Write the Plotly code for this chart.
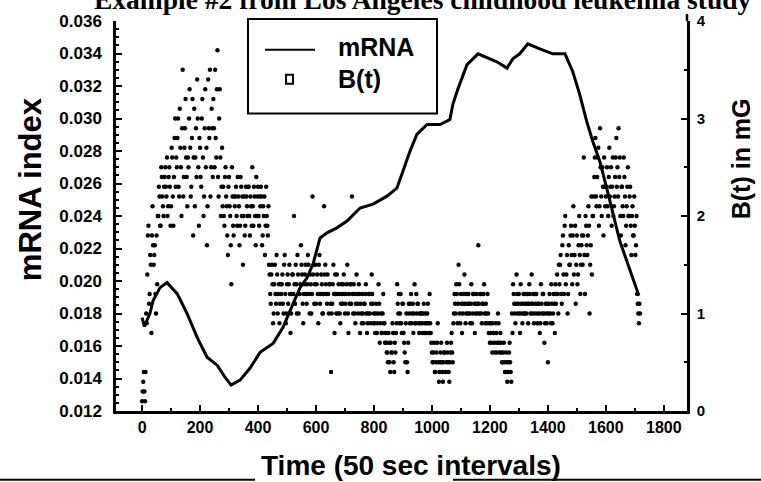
import plotly.graph_objects as go

# mRNA index curve (left axis)
mrna_time = [0, 8, 28, 38, 62, 86, 121, 155, 190, 224, 259, 286, 307, 338, 372, 407,
             452, 486, 521, 545, 569, 590, 614, 638, 672, 707, 752, 797, 845, 879, 900,
             924, 948, 983, 1028, 1062, 1072, 1090, 1121, 1159, 1200, 1224, 1259, 1279,
             1303, 1331, 1372, 1417, 1459, 1486, 1510, 1534, 1555, 1579, 1603, 1624,
             1648, 1672, 1693, 1714]
mrna_index = [0.01775, 0.01720, 0.01806, 0.01880, 0.01959, 0.01990, 0.01922, 0.01800,
              0.01653, 0.01531, 0.01482, 0.01408, 0.01359, 0.01390, 0.01463, 0.01561,
              0.01616, 0.01714, 0.01861, 0.01959, 0.02020, 0.02106, 0.02265, 0.02296,
              0.02327, 0.02369, 0.02449, 0.02473, 0.02522, 0.02571, 0.02676, 0.02798,
              0.02902, 0.02963, 0.02963, 0.02994, 0.03086, 0.03184, 0.03331, 0.03398,
              0.03367, 0.03349, 0.03310, 0.03367, 0.03398, 0.03459, 0.03429, 0.03398,
              0.03398, 0.03288, 0.03147, 0.02982, 0.02859, 0.02737, 0.02571, 0.02412,
              0.02247, 0.02125, 0.02020, 0.01910]

# B(t) field readings in mG (right axis) at time steps 0, 4, 8, ...
b_mg_even = [
    0.1, 0.3, 0.2, 0.4, 0.9, 1.8, 1.1, 1.6, 0.8, 2.1,
    1.5, 1.7, 1.0, 1.3, 2.0, 2.2, 1.9, 2.4, 2.1, 2.3,
    2.5, 2.2, 2.0, 2.4, 2.3, 2.1, 2.6, 1.9, 2.8, 2.3,
    2.5, 3.0, 2.2, 2.7, 2.0, 3.5, 2.4, 2.9, 2.6, 2.1,
    2.5, 3.3, 2.2, 2.8, 1.8, 3.1, 2.6, 2.4, 3.0, 1.9,
    2.7, 2.3, 3.2, 2.0, 2.9, 2.5, 1.7, 3.4, 2.8, 2.2,
    3.1, 2.4, 2.9, 3.5, 2.6, 3.7, 2.2, 3.3, 2.0, 2.7,
    2.3, 1.9, 2.5, 2.1, 1.6, 2.4, 2.0, 1.3, 2.2, 1.8,
    2.1, 2.3, 1.9, 2.2, 1.7, 2.4, 2.0, 1.5, 2.2, 1.9,
    2.2, 2.0, 2.3, 1.8, 2.1, 2.5, 1.9, 2.2, 1.7, 2.0,
    2.3, 1.9, 2.1, 2.2, 1.8, 2.0, 1.6, 2.3, 1.9, 2.1,
    1.4, 1.1, 1.5, 0.9, 1.3, 1.2, 1.6, 1.0, 1.3, 1.1,
    1.2, 1.4, 1.0, 1.6, 0.9, 1.3, 1.1, 1.5, 0.8, 1.2,
    1.4, 2.0, 1.1, 1.3, 1.6, 1.0, 1.2, 1.7, 1.4, 0.9,
    1.3, 1.5, 1.1, 1.6, 1.2, 1.4, 1.0, 2.2, 1.5, 1.3,
    1.1, 1.4, 0.9, 1.6, 1.2, 1.3, 1.0, 2.1, 1.5, 1.2,
    1.4, 1.0, 1.3, 0.4, 1.1, 1.5, 0.8, 1.2, 1.4, 1.0,
    1.2, 0.9, 1.3, 1.1, 1.4, 1.0, 1.2, 1.5, 0.8, 1.1,
    1.3, 2.2, 1.0, 1.2, 0.9, 1.4, 1.1, 1.3, 0.8, 1.0,
    1.2, 0.9, 1.1, 1.3, 0.8, 1.0, 1.2, 0.9, 1.4, 1.1,
    1.0, 0.8, 1.1, 0.9, 1.3, 0.7, 1.0, 0.8, 1.2, 0.9,
    0.8, 0.6, 0.5, 0.7, 0.4, 0.6, 0.9, 0.5, 0.7, 0.8,
    1.3, 1.0, 0.9, 1.2, 0.8, 1.1, 0.7, 0.5, 1.0, 0.4,
    1.1, 0.9, 1.2, 1.0, 0.8, 1.3, 0.9, 1.0, 1.1, 0.8,
    0.9, 1.0, 0.8, 1.1, 0.9, 0.8, 1.0, 0.9, 1.2, 0.8,
    0.6, 0.5, 0.7, 0.4, 0.6, 0.9, 0.3, 0.5, 0.7, 0.4,
    0.5, 0.6, 0.4, 0.7, 0.5, 0.3, 0.6, 0.8, 0.5, 1.0,
    1.1, 1.3, 0.9, 1.5, 1.0, 1.2, 0.8, 1.1, 1.4, 0.9,
    1.2, 1.0, 1.1, 0.9, 1.3, 1.0, 1.2, 0.8, 1.1, 1.0,
    1.7, 1.0, 1.2, 0.9, 1.1, 1.3, 0.9, 1.0, 1.2, 0.8,
    0.7, 0.9, 0.6, 0.8, 0.7, 0.9, 0.6, 1.0, 0.7, 0.8,
    0.6, 0.5, 0.7, 0.4, 0.6, 0.3, 0.5, 0.7, 0.4, 1.0,
    1.3, 1.1, 0.9, 1.4, 1.0, 1.2, 0.8, 1.1, 0.9, 1.2,
    1.0, 1.2, 1.1, 0.9, 1.3, 1.0, 1.4, 1.1, 0.9, 1.2,
    1.2, 0.9, 1.1, 0.8, 1.3, 1.0, 1.2, 0.7, 1.1, 0.9,
    0.5, 1.1, 1.0, 1.3, 0.9, 1.2, 0.8, 1.1, 1.4, 1.0,
    1.3, 1.6, 1.1, 1.8, 1.2, 2.0, 1.4, 1.0, 1.7, 1.5,
    1.9, 1.3, 2.1, 1.6, 1.1, 1.8, 1.4, 2.0, 1.2, 1.7,
    1.5, 2.6, 1.2, 1.9, 1.6, 2.1, 1.0, 1.7, 1.4, 2.0,
    2.4, 2.8, 2.1, 2.6, 1.9, 2.9, 2.2, 2.5, 1.8, 2.3,
    2.2, 2.5, 2.0, 2.7, 2.3, 1.9, 2.6, 2.1, 2.4, 2.8,
    2.5, 2.9, 2.6, 1.8, 2.3, 2.0, 2.4, 1.7, 2.1, 2.5,
    2.0, 2.3, 1.6, 2.1, 1.8, 1.9, 1.7, 1.2, 1.0, 1.1,
]

# B(t) field readings in mG at time steps 2, 6, 10, ...
b_mg_odd = [
    0.2, 0.4, 0.1, 1.0, 1.4, 1.9, 1.2, 1.5, 1.8, 1.7,
    1.6, 1.2, 1.8, 2.0, 2.3, 1.9, 2.5, 2.2, 2.0, 2.4,
    2.3, 2.6, 2.1, 2.5, 1.9, 2.7, 2.2, 2.4, 3.0, 2.6,
    2.8, 2.3, 3.1, 2.5, 2.9, 2.2, 2.7, 3.2, 2.4, 2.6,
    3.0, 2.7, 2.3, 3.2, 2.6, 2.1, 2.9, 3.4, 2.5, 2.8,
    2.4, 3.0, 2.6, 2.2, 3.3, 2.7, 2.1, 2.9, 3.5, 2.5,
    2.9, 3.2, 2.5, 2.8, 3.3, 2.4, 3.0, 2.6, 2.3, 2.1,
    2.0, 2.4, 2.2, 1.8, 2.3, 2.1, 1.7, 2.5, 1.9, 2.2,
    2.2, 2.0, 2.4, 2.1, 1.9, 2.3, 2.2, 2.0, 1.8, 2.3,
    2.1, 2.3, 2.0, 2.2, 1.9, 2.1, 2.3, 2.0, 2.4, 2.2,
    2.0, 2.2, 2.3, 1.7, 2.1, 2.2, 1.9, 2.0, 1.8, 1.5,
    1.2, 1.4, 1.3, 1.0, 1.5, 1.1, 1.4, 1.2, 0.9, 1.3,
    1.3, 1.1, 1.5, 1.2, 1.0, 1.4, 1.3, 1.2, 1.0, 1.4,
    1.2, 1.3, 1.5, 1.0, 1.4, 1.2, 1.3, 1.5, 1.1, 1.2,
    1.4, 1.2, 1.3, 1.5, 1.0, 1.3, 1.2, 1.4, 1.1, 1.5,
    1.3, 1.2, 1.5, 1.1, 1.4, 1.0, 1.2, 1.4, 1.3, 1.1,
    1.2, 1.3, 1.1, 1.0, 1.3, 1.2, 1.4, 1.0, 1.2, 1.3,
    1.0, 1.1, 1.2, 1.3, 1.2, 1.1, 1.3, 1.0, 1.2, 1.3,
    1.1, 1.2, 1.3, 1.0, 1.1, 1.2, 1.0, 1.2, 1.1, 0.9,
    1.0, 1.1, 1.2, 1.0, 0.9, 1.2, 1.0, 1.1, 1.2, 0.9,
    0.9, 1.0, 0.8, 1.0, 1.1, 0.9, 0.8, 1.0, 0.9, 0.7,
    0.7, 0.6, 0.8, 0.5, 0.7, 0.6, 0.8, 0.4, 0.6, 0.9,
    1.1, 1.2, 1.0, 0.9, 1.1, 0.8, 0.6, 0.9, 0.5, 0.7,
    1.0, 1.1, 0.9, 1.1, 1.0, 0.9, 1.2, 1.1, 0.9, 1.0,
    1.0, 0.9, 1.0, 0.8, 1.0, 0.9, 1.1, 0.8, 0.9, 0.7,
    0.5, 0.6, 0.4, 0.5, 0.7, 0.5, 0.4, 0.6, 0.5, 0.3,
    0.6, 0.4, 0.5, 0.6, 0.4, 0.5, 0.7, 0.6, 0.9, 1.2,
    1.0, 1.2, 1.1, 1.3, 0.9, 1.1, 1.0, 1.2, 1.1, 1.0,
    1.1, 1.2, 1.0, 1.1, 0.9, 1.2, 1.1, 1.0, 1.2, 1.1,
    1.1, 1.2, 1.0, 1.1, 1.2, 1.0, 1.1, 0.9, 1.0, 0.9,
    0.8, 0.7, 0.9, 0.8, 0.6, 0.8, 0.7, 0.9, 0.6, 0.7,
    0.5, 0.6, 0.5, 0.4, 0.5, 0.4, 0.6, 0.5, 0.3, 0.8,
    1.2, 1.0, 1.1, 1.2, 1.1, 1.0, 1.3, 1.0, 1.1, 1.0,
    1.1, 1.0, 1.2, 1.1, 1.2, 1.1, 1.0, 1.2, 1.0, 1.1,
    1.0, 1.1, 1.0, 0.9, 1.1, 1.2, 1.0, 0.9, 1.0, 1.1,
    1.0, 1.2, 0.9, 1.1, 1.0, 1.1, 1.3, 1.2, 1.2, 1.5,
    1.5, 1.2, 1.7, 1.4, 1.9, 1.3, 1.6, 1.2, 1.5, 1.8,
    1.6, 1.8, 1.4, 1.9, 1.5, 1.3, 1.7, 1.6, 1.5, 1.8,
    1.8, 1.6, 2.0, 1.7, 1.8, 1.9, 1.5, 2.2, 2.0, 2.2,
    2.6, 2.2, 2.4, 2.7, 2.1, 2.5, 2.0, 2.3, 2.6, 2.1,
    2.3, 2.1, 2.4, 2.2, 2.5, 2.3, 2.0, 2.2, 2.6, 2.3,
    2.2, 2.4, 2.0, 2.3, 2.1, 2.6, 2.2, 1.9, 2.3, 2.0,
    2.2, 1.9, 2.0, 1.8, 2.2, 1.6, 2.0, 1.1, 0.9, 1.0,
]

b_time = list(range(0, 4 * len(b_mg_even), 4)) + list(range(2, 4 * len(b_mg_odd), 4))
b_mg = b_mg_even + b_mg_odd

x_ticks = list(range(0, 2000, 200))

SANS = "Liberation Sans, Arial, Helvetica, sans-serif"
SERIF = "Liberation Serif, Times New Roman, serif"

# plot area in pixels: left 116, right 687, top 19, bottom 411
L, R, T, B = 116, 687, 19, 411


def px(x):
    return (x - L) / (R - L)


def py(y):
    return (B - y) / (B - T)


fig = go.Figure()

fig.add_trace(go.Scatter(
    x=mrna_time, y=mrna_index, mode="lines", name="mRNA", showlegend=False,
    line=dict(color="black", width=3), yaxis="y",
))
fig.add_trace(go.Scatter(
    x=b_time, y=b_mg, mode="markers", name="B(t)", showlegend=False, yaxis="y2",
    marker=dict(symbol="circle", size=4.4, color="black", line=dict(width=0)),
))

axis_common = dict(
    showline=True, linecolor="black", linewidth=2.5, showgrid=False, zeroline=False,
    ticks="inside", ticklen=6, tickwidth=2, tickcolor="black",
)

fig.update_layout(
    width=761, height=482,
    margin=dict(l=L, r=761 - R, t=T, b=482 - B),
    paper_bgcolor="white", plot_bgcolor="white",
    showlegend=False,
    xaxis=dict(range=[-90, 1880], tickvals=x_ticks,
               tickfont=dict(family=SANS, size=16, color="black", weight="bold"),
               minor=dict(ticks="inside", dtick=100, tick0=0, ticklen=3, tickcolor="black"),
               **axis_common),
    yaxis=dict(range=[0.012, 0.036], dtick=0.002, tick0=0.012, tickformat=".3f",
               ticklabelstandoff=8,
               tickfont=dict(family=SANS, size=17, color="black", weight="bold"),
               minor=dict(ticks="inside", dtick=0.0005, ticklen=3, tickcolor="black"),
               **axis_common),
    yaxis2=dict(range=[0, 4.0], dtick=1, tick0=0, overlaying="y", side="right",
                ticklabelstandoff=4,
                tickfont=dict(family=SANS, size=15, color="black", weight="bold"),
                minor=dict(ticks="inside", dtick=0.5, ticklen=3, tickcolor="black"),
                **axis_common),
)

# right axis line runs a little past the top of the plot
fig.add_shape(type="line", xref="paper", yref="paper",
              x0=1, x1=1, y0=1, y1=py(12),
              line=dict(color="black", width=2.5))

# legend box drawn with shapes and text
fig.add_shape(type="rect", xref="paper", yref="paper",
              x0=px(248), x1=px(437), y0=py(112), y1=py(17),
              line=dict(color="black", width=2), fillcolor="white", layer="above")
fig.add_shape(type="line", xref="paper", yref="paper",
              x0=px(265), x1=px(315), y0=py(48), y1=py(48),
              line=dict(color="black", width=2), layer="above")
fig.add_shape(type="rect", xref="paper", yref="paper",
              x0=px(286), x1=px(293), y0=py(82), y1=py(73),
              line=dict(color="black", width=2), fillcolor="white", layer="above")
for label, yc in [("mRNA", 45), ("B(t)", 77)]:
    fig.add_annotation(text=f"<b>{label}</b>", xref="paper", yref="paper",
                       x=px(336), y=py(yc), xanchor="left", yanchor="middle",
                       showarrow=False,
                       font=dict(family=SANS, size=25, color="black"))

fig.add_annotation(text="<b>Example #2 from Los Angeles childhood leukemia study</b>",
                   xref="paper", yref="paper", x=px(423), y=1.056,
                   xanchor="center", yanchor="middle", showarrow=False,
                   font=dict(family=SERIF, size=27.5, color="black"))
fig.add_annotation(text="<b>mRNA index</b>", textangle=-90,
                   xref="paper", yref="paper", x=px(30), y=py(188),
                   xanchor="center", yanchor="middle", showarrow=False,
                   font=dict(family=SANS, size=31, color="black"))
fig.add_annotation(text="<b>B(t) in mG</b>", textangle=-90,
                   xref="paper", yref="paper", x=px(741), y=py(158),
                   xanchor="center", yanchor="middle", showarrow=False,
                   font=dict(family=SANS, size=25, color="black"))
fig.add_annotation(text="<b>Time (50 sec intervals)</b>",
                   xref="paper", yref="paper", x=px(411), y=py(466),
                   xanchor="center", yanchor="middle", showarrow=False,
                   font=dict(family=SANS, size=28, color="black"))

# page rules along the bottom edge
for x0, x1 in [(0, 255), (453, 761)]:
    fig.add_shape(type="line", xref="paper", yref="paper",
                  x0=px(x0), x1=px(x1), y0=py(480), y1=py(480),
                  line=dict(color="black", width=2))

fig.write_html("out.html")
